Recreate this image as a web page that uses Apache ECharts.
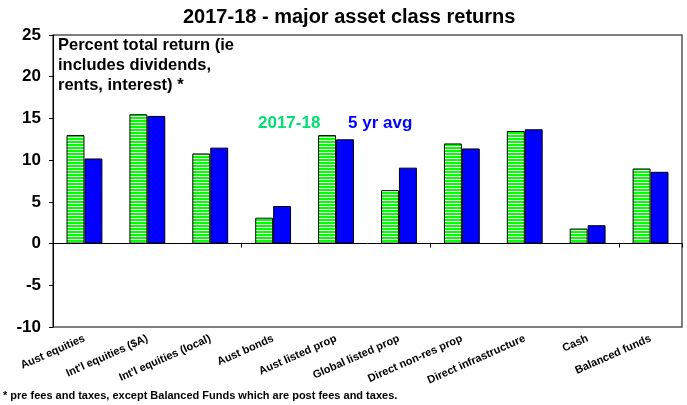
<!DOCTYPE html>
<html>
<head>
<meta charset="utf-8">
<script src="https://cdn.jsdelivr.net/npm/echarts@6/dist/echarts.min.js"></script>
<style>
  html, body { margin: 0; padding: 0; background: #fff; }
  #chart { width: 687px; height: 405px; }
</style>
</head>
<body>
<div id="chart"></div>
<script>
const categories = ['Aust equities', "Int'l equities ($A)", "Int'l equities (local)", 'Aust bonds',
  'Aust listed prop', 'Global listed prop', 'Direct non-res prop', 'Direct infrastructure',
  'Cash', 'Balanced funds'];
const returns2017_18 = [13.0, 15.5, 10.8, 3.1, 13.0, 6.4, 12.0, 13.5, 1.8, 9.0];
const fiveYearAvg = [10.2, 15.3, 11.5, 4.5, 12.5, 9.1, 11.4, 13.7, 2.2, 8.6];

// horizontal green / white stripes
const stripe = document.createElement('canvas');
stripe.width = 4;
stripe.height = 3;
const ctx = stripe.getContext('2d');
ctx.fillStyle = '#ffffff';
ctx.fillRect(0, 0, 4, 3);
ctx.fillStyle = '#00ff00';
ctx.fillRect(0, 0, 4, 2);

const font = '"Liberation Sans", Arial, sans-serif';
const chart = echarts.init(document.getElementById('chart'), null, { renderer: 'canvas' });

chart.setOption({
  animation: false,
  textStyle: { fontFamily: font },
  grid: {
    left: 53, right: 5, top: 35, bottom: 78,
    show: true, borderColor: '#555', borderWidth: 1.5, backgroundColor: 'transparent'
  },
  xAxis: [
    {
      type: 'category',
      data: categories,
      position: 'bottom',
      axisLine: { show: false, onZero: false },
      axisTick: { show: false },
      axisLabel: {
        rotate: 24, interval: 0, margin: 11,
        color: '#000', fontWeight: 'bold', fontSize: 11, fontFamily: font
      }
    },
    {
      type: 'category',
      data: categories,
      position: 'bottom',
      axisLine: { show: true, onZero: true, lineStyle: { color: '#000', width: 1 } },
      axisTick: { show: true, length: 4, lineStyle: { color: '#000' } },
      axisLabel: { show: false }
    }
  ],
  yAxis: {
    type: 'value',
    min: -10, max: 25, interval: 5,
    axisLine: { show: true, lineStyle: { color: '#000', width: 1 } },
    axisTick: { show: true, length: 4, lineStyle: { color: '#000' } },
    splitLine: { show: false },
    axisLabel: { color: '#000', fontWeight: 'bold', fontSize: 17, fontFamily: font, margin: 12 }
  },
  series: [
    {
      name: '2017-18',
      type: 'bar',
      xAxisIndex: 0,
      data: returns2017_18,
      barGap: '0%',
      barCategoryGap: '43%',
      itemStyle: { color: { image: stripe, repeat: 'repeat' }, borderColor: '#000', borderWidth: 1 }
    },
    {
      name: '5 yr avg',
      type: 'bar',
      xAxisIndex: 0,
      data: fiveYearAvg,
      itemStyle: { color: '#0000ff', borderColor: '#000', borderWidth: 1 }
    }
  ],
  graphic: [
    {
      type: 'text', left: 183, top: 7,
      style: { text: '2017-18 - major asset class returns', font: 'bold 20px ' + font, fill: '#000' }
    },
    {
      type: 'text', left: 58, top: 35,
      style: {
        text: 'Percent total return (ie\nincludes dividends,\nrents, interest) *',
        font: 'bold 16.5px ' + font, fill: '#000', lineHeight: 20
      }
    },
    {
      type: 'text', left: 258, top: 115,
      style: { text: '2017-18', font: 'bold 17px ' + font, fill: '#00e070' }
    },
    {
      type: 'text', left: 348, top: 115,
      style: { text: '5 yr avg', font: 'bold 17px ' + font, fill: '#0000ff' }
    },
    {
      type: 'text', left: 3, top: 390,
      style: {
        text: '* pre fees and taxes, except Balanced Funds which are post fees and taxes.',
        font: 'bold 11px ' + font, fill: '#000'
      }
    }
  ]
});
</script>
</body>
</html>
